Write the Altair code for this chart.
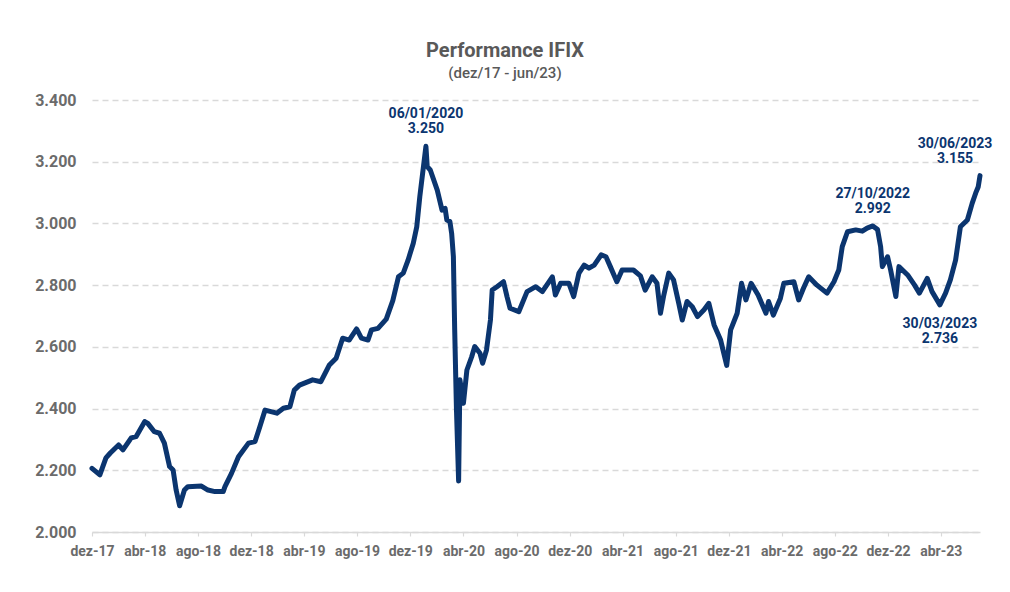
import altair as alt
import pandas as pd

# ---- IFIX series (values in thousands) ----
dates = [
    "2017-12-01", "2017-12-19", "2018-01-02", "2018-01-12", "2018-01-31", "2018-02-10",
    "2018-03-01", "2018-03-12", "2018-04-01", "2018-04-08", "2018-04-23", "2018-05-05",
    "2018-05-16", "2018-05-28", "2018-06-05", "2018-06-12", "2018-06-20", "2018-07-01",
    "2018-07-09", "2018-08-09", "2018-08-24", "2018-09-09", "2018-09-28", "2018-10-02",
    "2018-10-17", "2018-11-02", "2018-11-25", "2018-12-10", "2018-12-21", "2019-01-02",
    "2019-01-29", "2019-02-13", "2019-02-28", "2019-03-10", "2019-03-22", "2019-04-21",
    "2019-05-10", "2019-05-29", "2019-06-14", "2019-06-29", "2019-07-14", "2019-07-31",
    "2019-08-11", "2019-08-26", "2019-09-03", "2019-09-18", "2019-10-07", "2019-10-22",
    "2019-11-04", "2019-11-15", "2019-11-26", "2019-12-08", "2019-12-16", "2019-12-23",
    "2020-01-06", "2020-01-09", "2020-01-16", "2020-02-01", "2020-02-12", "2020-02-19",
    "2020-02-23", "2020-03-01", "2020-03-05", "2020-03-09", "2020-03-12", "2020-03-16",
    "2020-03-21", "2020-03-24", "2020-04-01", "2020-04-09", "2020-04-20", "2020-04-27",
    "2020-05-09", "2020-05-15", "2020-05-24", "2020-06-02", "2020-06-06", "2020-06-17",
    "2020-07-02", "2020-07-10", "2020-07-17", "2020-08-06", "2020-08-25", "2020-09-14",
    "2020-09-29", "2020-10-22", "2020-10-29", "2020-11-10", "2020-11-29", "2020-12-10",
    "2020-12-22", "2021-01-03", "2021-01-14", "2021-01-26", "2021-02-11", "2021-02-22",
    "2021-03-04", "2021-03-19", "2021-03-31", "2021-04-26", "2021-05-12", "2021-05-23",
    "2021-06-08", "2021-06-19", "2021-06-27", "2021-07-04", "2021-07-16", "2021-07-27",
    "2021-08-08", "2021-08-16", "2021-08-27", "2021-09-08", "2021-09-20", "2021-10-05",
    "2021-10-16", "2021-10-28", "2021-11-12", "2021-11-26", "2021-12-05", "2021-12-20",
    "2021-12-30", "2022-01-09", "2022-01-21", "2022-02-06", "2022-02-24", "2022-03-02",
    "2022-03-13", "2022-03-29", "2022-04-06", "2022-04-29", "2022-05-10", "2022-05-21",
    "2022-06-02", "2022-06-21", "2022-07-14", "2022-07-30", "2022-08-10", "2022-08-18",
    "2022-08-30", "2022-09-18", "2022-10-03", "2022-10-14", "2022-10-27", "2022-11-07",
    "2022-11-14", "2022-11-18", "2022-11-30", "2022-12-07", "2022-12-19", "2022-12-26",
    "2023-01-15", "2023-01-31", "2023-02-11", "2023-03-01", "2023-03-12", "2023-03-30",
    "2023-04-12", "2023-04-23", "2023-05-05", "2023-05-16", "2023-06-01", "2023-06-12",
    "2023-06-20", "2023-06-26", "2023-06-30",
]
values = [
    2.206, 2.185, 2.240, 2.256, 2.282, 2.266,
    2.305, 2.309, 2.358, 2.352, 2.325, 2.320,
    2.288, 2.212, 2.201, 2.136, 2.085, 2.136,
    2.147, 2.149, 2.136, 2.131, 2.131, 2.147,
    2.190, 2.244, 2.288, 2.293, 2.341, 2.395,
    2.385, 2.401, 2.406, 2.460, 2.476, 2.493,
    2.487, 2.540, 2.563, 2.628, 2.622, 2.658,
    2.628, 2.622, 2.655, 2.660, 2.690, 2.750,
    2.827, 2.839, 2.881, 2.936, 2.989, 3.087,
    3.250, 3.184, 3.173, 3.108, 3.043, 3.049,
    3.011, 3.006, 2.968, 2.892, 2.655, 2.400,
    2.165, 2.493, 2.417, 2.525, 2.568, 2.601,
    2.579, 2.547, 2.590, 2.687, 2.784, 2.795,
    2.811, 2.763, 2.725, 2.714, 2.779, 2.795,
    2.779, 2.827, 2.768, 2.806, 2.806, 2.763,
    2.839, 2.865, 2.855, 2.865, 2.898, 2.892,
    2.860, 2.811, 2.849, 2.849, 2.830, 2.784,
    2.827, 2.806, 2.709, 2.763, 2.839, 2.817,
    2.741, 2.687, 2.747, 2.730, 2.698, 2.720,
    2.741, 2.671, 2.622, 2.540, 2.655, 2.709,
    2.806, 2.752, 2.806, 2.768, 2.709, 2.747,
    2.703, 2.757, 2.806, 2.811, 2.752, 2.790,
    2.827, 2.800, 2.774, 2.811, 2.849, 2.925,
    2.973, 2.979, 2.975, 2.985, 2.992, 2.980,
    2.925, 2.860, 2.892, 2.849, 2.763, 2.860,
    2.833, 2.800, 2.774, 2.822, 2.779, 2.736,
    2.774, 2.817, 2.881, 2.989, 3.011, 3.065,
    3.098, 3.119, 3.155,
]

# ---- axis ticks ----
tick_dates = [
    "2017-12", "2018-04", "2018-08", "2018-12", "2019-04", "2019-08", "2019-12",
    "2020-04", "2020-08", "2020-12", "2021-04", "2021-08", "2021-12", "2022-04",
    "2022-08", "2022-12", "2023-04",
]
tick_labels = [
    "dez-17", "abr-18", "ago-18", "dez-18", "abr-19", "ago-19", "dez-19",
    "abr-20", "ago-20", "dez-20", "abr-21", "ago-21", "dez-21", "abr-22",
    "ago-22", "dez-22", "abr-23",
]
y_ticks = [2.0, 2.2, 2.4, 2.6, 2.8, 3.0, 3.2, 3.4]

# ---- annotations ----
ann_dates = ["2020-01-06", "2022-10-27", "2023-06-30", "2023-03-30"]
ann_labels = ["06/01/2020", "27/10/2022", "30/06/2023", "30/03/2023"]
ann_values = [3.250, 2.992, 3.155, 2.736]

NAVY = "#0b356f"
GRAY = "#6b6b6b"
GRID = "#d9d9d9"
FONT = "Roboto"

df = pd.DataFrame({"date": dates, "value": values})
ann = pd.DataFrame({"date": ann_dates, "label": ann_labels, "value": ann_values})


def dt(s):
    parts = s.split("-")
    d = int(parts[2]) if len(parts) > 2 else 1
    return alt.DateTime(year=int(parts[0]), month=int(parts[1]), date=d, utc=True)


keys_js = "[" + ",".join("'%s'" % k for k in tick_dates) + "]"
labels_js = "[" + ",".join("'%s'" % k for k in tick_labels) + "]"
label_expr = "%s[indexof(%s, utcFormat(datum.value, '%%Y-%%m'))]" % (labels_js, keys_js)

x_enc = alt.X(
    "date:T",
    scale=alt.Scale(type="utc", domain=[dt(dates[0]), dt(dates[-1])]),
    axis=alt.Axis(
        values=[dt(t) for t in tick_dates],
        labelExpr=label_expr,
        labelOverlap=False,
        labelFlush=False,
        labelBound=False,
        title=None,
        grid=False,
        domainColor=GRID,
        domainWidth=1.5,
        tickColor=GRID,
        tickSize=4,
        tickWidth=1.2,
        labelPadding=8,
        labelFont=FONT,
        labelFontSize=14,
        labelFontWeight="bold",
        labelColor=GRAY,
    ),
)
y_enc = alt.Y(
    "value:Q",
    scale=alt.Scale(domain=[2.0, 3.4], nice=False, zero=False),
    axis=alt.Axis(
        values=y_ticks,
        format=".3f",
        title=None,
        domain=False,
        ticks=False,
        grid=True,
        gridColor=GRID,
        gridDash=[6, 4],
        gridWidth=1.3,
        labelPadding=16,
        labelFont=FONT,
        labelFontSize=16,
        labelFontWeight="bold",
        labelColor=GRAY,
    ),
)

line = alt.Chart(df).mark_line(
    color=NAVY, strokeWidth=5, strokeJoin="round", strokeCap="round"
).encode(x=x_enc, y=y_enc)

base_ann = alt.Chart(ann).transform_calculate(
    lines="[datum.label, format(datum.value, '.3f')]"
)

text_style = dict(font=FONT, fontSize=14, fontWeight="bold", color=NAVY, lineHeight=15)

ann_above = base_ann.transform_filter(
    "datum.label != '30/03/2023' && datum.label != '30/06/2023'"
).mark_text(baseline="bottom", align="center", dy=-25, **text_style).encode(
    x="date:T", y="value:Q", text="lines:N"
)
ann_last = base_ann.transform_filter("datum.label == '30/06/2023'").mark_text(
    baseline="bottom", align="center", dx=-25, dy=-25, **text_style
).encode(x="date:T", y="value:Q", text="lines:N")
ann_below = base_ann.transform_filter("datum.label == '30/03/2023'").mark_text(
    baseline="top", align="center", dy=12, **text_style
).encode(x="date:T", y="value:Q", text="lines:N")

chart = (
    alt.layer(line, ann_above, ann_last, ann_below)
    .properties(
        width=888,
        height=432,
        autosize=alt.AutoSizeParams(type="none"),
        padding={"left": 84, "top": 92, "right": 22, "bottom": 40},
        background="white",
        title=alt.TitleParams(
            "Performance IFIX",
            subtitle="(dez/17 - jun/23)",
            font=FONT,
            fontSize=20,
            fontWeight="bold",
            color="#595959",
            subtitleFont=FONT,
            subtitleFontSize=15,
            subtitleFontWeight=500,
            subtitleColor="#595959",
            subtitlePadding=5,
            anchor="middle",
            dx=-31,
            offset=11,
        ),
    )
    .configure_view(stroke=None)
)

chart.save("out.html", embed_options={"renderer": "svg", "actions": False})
